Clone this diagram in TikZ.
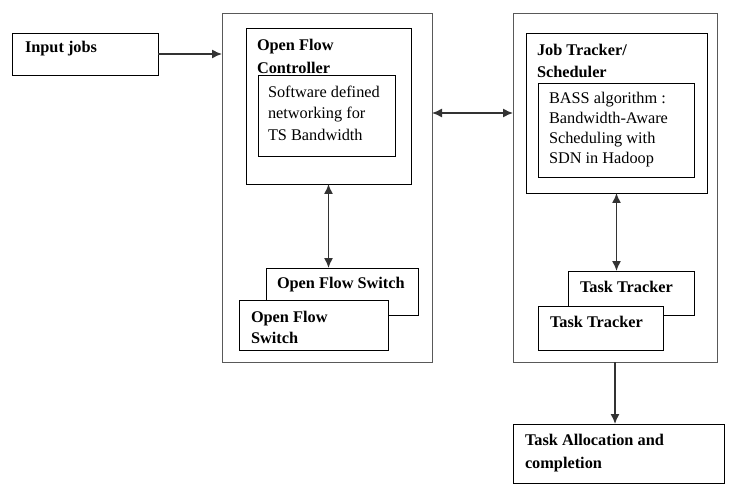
\documentclass[tikz,border=0pt]{standalone}
\usepackage{fontspec}
\setmainfont{Liberation Serif}
\usetikzlibrary{arrows.meta,positioning}

\begin{document}
\begin{tikzpicture}[x=1pt, y=-1pt,
    every node/.style={inner sep=0pt, outer sep=0pt},
    box/.style={draw, line width=0.8pt, fill=white, anchor=north west},
    outer/.style={draw=black!65, line width=0.8pt, anchor=north west},
    hdr/.style={anchor=north west, align=left, font=\fontsize{16.3}{23}\selectfont\bfseries},
    body/.style={anchor=north west, align=left, font=\fontsize{16.3}{21.5}\selectfont},
    flow/.style={draw=black!80, line width=1.4pt, -{Latex[length=10pt,width=9pt]}},
    link/.style={flow, {Latex[length=10pt,width=9pt]}-{Latex[length=10pt,width=9pt]}}]
  \useasboundingbox (0,0) rectangle (729,492);

  % input
  \node[box, minimum width=146pt, minimum height=42pt] (injobs) at (12,33) {};
  \node[hdr] (injobstxt) at (25,41) {Input jobs};

  % open flow side
  \node[outer, minimum width=210pt, minimum height=349pt] (leftbox) at (222,13) {};
  \node[box, minimum width=165pt, minimum height=156pt] (ctrl) at (246,28) {};
  \node[hdr] (ctrltxt) at (257,39) {Open Flow\\Controller};
  \node[box, minimum width=137pt, minimum height=81pt] (sdn) at (258,75) {};
  \node[body] (sdntxt) at (268,86) {Software defined\\networking for\\TS Bandwidth};
  \node[box, minimum width=152pt, minimum height=47pt] (swback) at (266,268) {};
  \node[hdr] (swbacktxt) at (277,277) {Open Flow Switch};
  \node[box, minimum width=149pt, minimum height=50pt] (swfront) at (239,300) {};
  \node[hdr, font=\fontsize{16.3}{21}\selectfont\bfseries] (swfronttxt) at (251,311) {Open Flow\\Switch};

  % hadoop side
  \node[outer, minimum width=204pt, minimum height=349pt] (rightbox) at (513,13) {};
  \node[box, minimum width=181pt, minimum height=160pt] (jt) at (526,33) {};
  \node[hdr, font=\fontsize{16.3}{22}\selectfont\bfseries] (jttxt) at (537,44) {Job Tracker/\\Scheduler};
  \node[box, minimum width=156pt, minimum height=94pt] (bass) at (538,83) {};
  \node[body, font=\fontsize{16.3}{20}\selectfont] (basstxt) at (549,92) {BASS algorithm :\\Bandwidth-Aware\\Scheduling with\\SDN in Hadoop};
  \node[box, minimum width=126pt, minimum height=44pt] (ttback) at (568,271) {};
  \node[hdr] (ttbacktxt) at (580,281) {Task Tracker};
  \node[box, minimum width=125pt, minimum height=44pt] (ttfront) at (538,306) {};
  \node[hdr] (ttfronttxt) at (550,316) {Task Tracker};

  % output
  \node[box, minimum width=211pt, minimum height=59pt] (alloc) at (513,424) {};
  \node[hdr] (alloctxt) at (525,434) {Task Allocation and\\completion};

  % connectors
  \draw[flow] (injobs.east) -- (injobs.east -| leftbox.west);
  \draw[link] (leftbox.east |- jt) -- (rightbox.west |- jt);
  \draw[link] (ctrl.south) -- (ctrl.south |- swback.north);
  \draw[link] (jt.south) -- (jt.south |- ttback.north);
  \draw[flow] (rightbox.south) -- (rightbox.south |- alloc.north);
\end{tikzpicture}
\end{document}
